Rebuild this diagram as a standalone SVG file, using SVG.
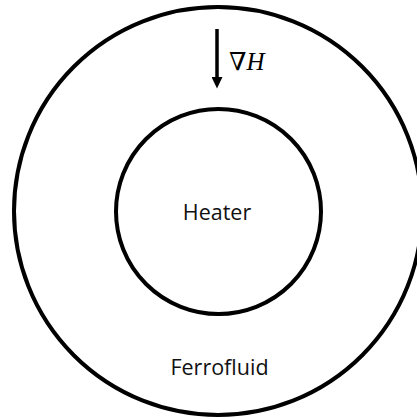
<svg xmlns="http://www.w3.org/2000/svg" width="417" height="419" viewBox="0 0 417 419">
<style>
.ring{fill:none;stroke:#000;stroke-width:4}
.lbl{font-family:"Open Sans","Noto Sans",sans-serif;font-size:21.5px;fill:#111;text-anchor:middle}
.math{font-family:"Liberation Serif","DejaVu Serif",serif;font-size:25px;fill:#000}
</style>
<defs>
<marker id="ah" viewBox="0 0 11.5 11" markerWidth="11.5" markerHeight="11" refX="1" refY="5.5" orient="auto" markerUnits="userSpaceOnUse">
<path d="M0,0 L11.5,5.5 L0,11 Z" fill="#000"/>
</marker>
</defs>
<rect width="417" height="419" fill="#fff"/>
<g id="ferrofluid">
<circle class="ring" cx="218" cy="211" r="204"/>
<text class="lbl" x="219.5" y="375">Ferrofluid</text>
</g>
<g id="heater">
<circle class="ring" cx="218.5" cy="211.5" r="102.5"/>
<text class="lbl" x="217" y="220">Heater</text>
</g>
<g id="connectors">
<path d="M217,29 V78" stroke="#000" stroke-width="3.5" fill="none" marker-end="url(#ah)"/>
</g>
<g id="gradH">
<text class="math" x="229" y="70">∇<tspan font-style="italic">H</tspan></text>
</g>
</svg>
